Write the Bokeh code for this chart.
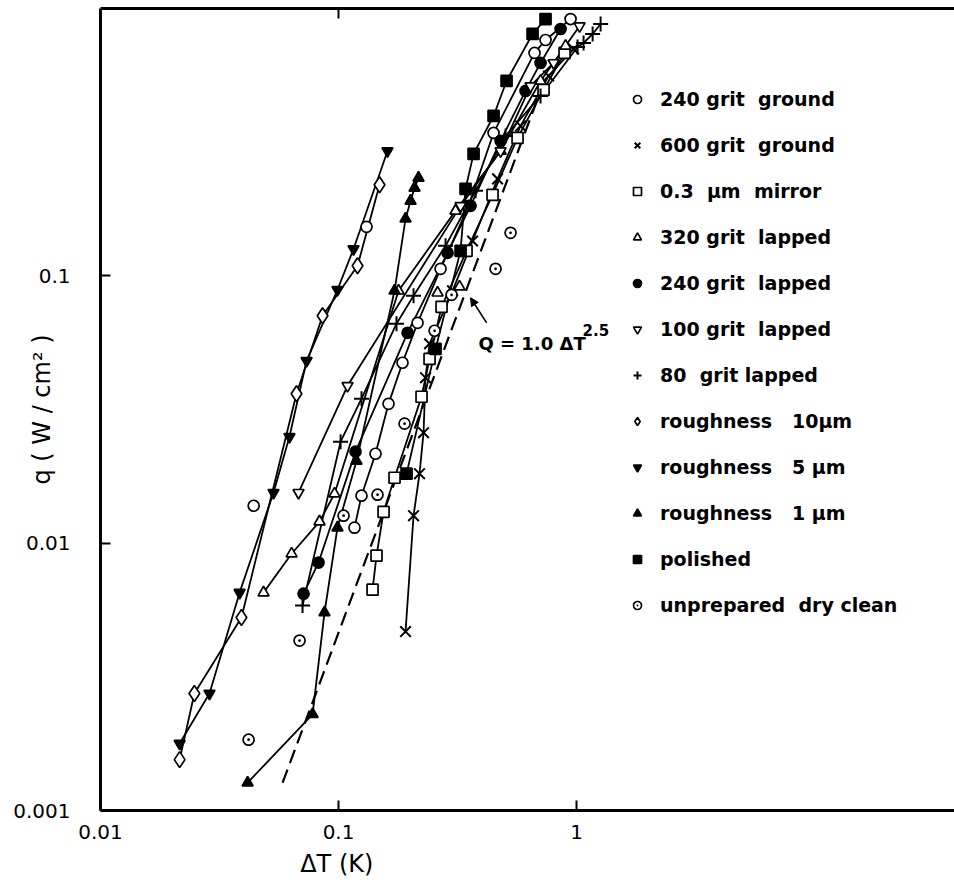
import math
from bokeh.plotting import figure
from bokeh.models import (FixedTicker, LogAxis, Legend, LegendItem,
                          Label, Arrow, NormalHead, Range1d)
from bokeh.embed import file_html
from bokeh.resources import INLINE

NaN = float("nan")

# ---------------- data (ΔT in K, q in W/cm^2) ----------------
x_ticks = [0.01, 0.1, 1]
x_tick_labels = ["0.01", "0.1", "1"]
y_ticks = [0.001, 0.01, 0.1]
y_tick_labels = ["0.001", "0.01", "0.1"]

# 240 grit ground (open circle); two single points on the left curves after NaN breaks
ggr240_dT = [0.1167, 0.1249, 0.1430, 0.1622, 0.1857, 0.2148, 0.2683, 0.3517, 0.4480, 0.6660, 0.7407, 0.9436, NaN, 0.0440, NaN, 0.1311]
ggr240_q = [0.01143, 0.01505, 0.0216, 0.0332, 0.0473, 0.0667, 0.1062, 0.1827, 0.3424, 0.682, 0.7625, 0.913, NaN, 0.0138, NaN, 0.1525]

# 600 grit ground (x)
ggr600_dT = [0.1912, 0.2066, 0.2189, 0.2276, 0.2320, 0.2412, 0.3013, 0.3656, 0.4657, 0.5817, 0.7629, 0.9714]
ggr600_q = [0.00467, 0.01267, 0.0182, 0.0259, 0.0416, 0.0557, 0.0879, 0.135, 0.2305, 0.3637, 0.5593, 0.706]

# 0.3 um mirror (open square)
mirror_dT = [0.1390, 0.1444, 0.1546, 0.1719, 0.2232, 0.2412, 0.2709, 0.3450, 0.4436, 0.5650, 0.7266, 0.8904]
mirror_q = [0.0067, 0.00898, 0.0131, 0.01757, 0.0353, 0.0489, 0.0766, 0.124, 0.2009, 0.328, 0.4959, 0.682]

# 320 grit lapped (open triangle)
lap320_dT = [0.0484, 0.0635, 0.0832, 0.0962, 0.1787, 0.3101, 0.4795, 0.7058, 0.8990, NaN, 0.2606, NaN, 0.3224]
lap320_q = [0.00653, 0.00913, 0.01204, 0.01531, 0.0879, 0.175, 0.293, 0.5358, 0.724, NaN, 0.0864, NaN, 0.0910]

# 240 grit lapped (filled circle)
lap240_dT = [0.0713, 0.0824, 0.1179, 0.1950, 0.2871, 0.3586, 0.4795, 0.6105, 0.7058, 0.8567]
lap240_q = [0.00647, 0.00846, 0.0220, 0.0612, 0.1219, 0.1827, 0.3196, 0.4917, 0.6257, 0.838]

# 100 grit lapped (open inverted triangle)
lap100_dT = [0.0679, 0.1091, 0.3256, 0.4795, 0.6408, 0.8007, 1.0294]
lap100_q = [0.01545, 0.0388, 0.1827, 0.293, 0.5131, 0.6257, 0.86]

# 80 grit lapped (+)
lap80_dT = [0.0706, 0.1020, 0.1249, 0.1752, 0.2066, 0.2816, 0.3764, 0.5031, 0.7058, 1.0097, 1.070, 1.168, 1.262]
lap80_q = [0.00584, 0.02396, 0.0347, 0.0662, 0.0842, 0.1295, 0.2079, 0.3337, 0.4709, 0.718, 0.743, 0.803, 0.875]

# roughness 10 um (open diamond)
r10_dT = [0.0215, 0.0248, 0.0391, 0.0666, 0.0857, 0.1202, 0.1487]
r10_q = [0.00155, 0.00274, 0.00527, 0.0362, 0.0709, 0.109, 0.219]

# roughness 5 um (filled inverted triangle)
r5_dT = [0.0215, 0.0287, 0.0384, 0.0533, 0.0622, 0.0734, 0.0990, 0.1156, 0.1606]
r5_q = [0.00178, 0.00274, 0.00653, 0.01545, 0.0250, 0.0481, 0.0887, 0.126, 0.293]

# roughness 1 um (filled triangle)
r1_dT = [0.0415, 0.0778, 0.0873, 0.0990, 0.1190, 0.1719, 0.1912, 0.2007, 0.2086, 0.2168]
r1_q = [0.00127, 0.00229, 0.0055, 0.01143, 0.0203, 0.0879, 0.1634, 0.1907, 0.2133, 0.2325]

# polished (filled square)
pol_dT = [0.1931, 0.2556, 0.3256, 0.3416, 0.3692, 0.4480, 0.5080, 0.6533, 0.7407]
pol_q = [0.0182, 0.0533, 0.124, 0.2115, 0.2858, 0.3963, 0.5358, 0.803, 0.913]

# unprepared dry clean (dotted circle), not connected
unp_dT = [0.0419, 0.0686, 0.1050, 0.1458, 0.1894, 0.2532, 0.2985, 0.4568, 0.5281]
unp_q = [0.00184, 0.00432, 0.01267, 0.01518, 0.028, 0.0623, 0.0849, 0.1062, 0.1448]

# correlation Q = 1.0 dT^2.5 (dashed), end points
corr_dT = [0.0582, 0.7058]
corr_q = [0.00127, 0.4917]

FONT = "DejaVu Sans"
SP = "\u00a0"

p = figure(width=954, height=889, x_axis_type="log", y_axis_type="log",
           x_range=Range1d(0.01, 38.7), y_range=Range1d(0.001, 1.0),
           output_backend="svg", toolbar_location=None,
           min_border_left=100, min_border_right=0, min_border_top=8, min_border_bottom=79,
           background_fill_color="white", border_fill_color="white",
           outline_line_color=None)
p.grid.visible = False

for ax, ticks, labs in ((p.xaxis[0], x_ticks, x_tick_labels), (p.yaxis[0], y_ticks, y_tick_labels)):
    ax.ticker = FixedTicker(ticks=ticks, minor_ticks=[])
    ax.major_label_overrides = dict(zip(ticks, labs))
    ax.major_tick_in = 10
    ax.major_tick_out = 0
    ax.minor_tick_line_color = None
    ax.axis_line_width = 3
    ax.major_tick_line_width = 2
    ax.major_label_text_font = FONT
    ax.major_label_text_font_size = "20px"
    ax.major_label_text_color = "black"
    ax.axis_label_text_font = FONT
    ax.axis_label_text_font_size = "24px"
    ax.axis_label_text_font_style = "normal"
    ax.axis_label_text_color = "black"
p.xaxis.major_label_standoff = 14
p.yaxis.major_label_standoff = 30

# x title centred under the 0.1 tick: trailing no-break spaces shift the visible text left
p.xaxis.axis_label = "ΔT (K)" + SP * 50
p.xaxis.axis_label_standoff = 8
p.yaxis.axis_label = "q ( W / cm² )"
p.yaxis.axis_label_standoff = -46

top = LogAxis(ticker=FixedTicker(ticks=[0.1], minor_ticks=[]), major_label_overrides={0.1: " "},
              major_label_text_font_size="1px", major_label_text_color=None,
              major_tick_in=10, major_tick_out=0, axis_line_width=3, major_tick_line_width=2,
              minor_tick_line_color=None, major_label_standoff=0)
p.add_layout(top, "above")

# correlation line and annotation
p.line(corr_dT, corr_q, line_color="black", line_width=2.2, line_dash="14 7")
p.add_layout(Label(x=0.387, y=0.0557, text="Q = 1.0 ΔT", text_font=FONT,
                   text_font_size="18px", text_font_style="bold", text_color="black",
                   text_baseline="alphabetic"))
p.add_layout(Label(x=1.06, y=0.0625, text="2.5", text_font=FONT,
                   text_font_size="15px", text_font_style="bold", text_color="black",
                   text_baseline="alphabetic"))
p.add_layout(Arrow(end=NormalHead(size=8, fill_color="black", line_color="black"),
                   x_start=0.419, y_start=0.0667, x_end=0.3585, y_end=0.0828,
                   line_color="black", line_width=1.6))

series = [
    ("240 grit" + SP * 2 + "ground", ggr240_dT, ggr240_q, "circle", "white"),
    ("600 grit" + SP * 2 + "ground", ggr600_dT, ggr600_q, "x", "white"),
    ("0.3" + SP * 2 + "μm" + SP * 2 + "mirror", mirror_dT, mirror_q, "square", "white"),
    ("320 grit" + SP * 2 + "lapped", lap320_dT, lap320_q, "triangle", "white"),
    ("240 grit" + SP * 2 + "lapped", lap240_dT, lap240_q, "circle", "black"),
    ("100 grit" + SP * 2 + "lapped", lap100_dT, lap100_q, "inverted_triangle", "white"),
    ("80" + SP * 2 + "grit" + SP + "lapped", lap80_dT, lap80_q, "cross", "white"),
    ("roughness" + SP * 3 + "10μm", r10_dT, r10_q, "diamond", "white"),
    ("roughness" + SP * 3 + "5 μm", r5_dT, r5_q, "inverted_triangle", "black"),
    ("roughness" + SP * 3 + "1 μm", r1_dT, r1_q, "triangle", "black"),
    ("polished", pol_dT, pol_q, "square", "black"),
    ("unprepared" + SP * 2 + "dry" + SP + "clean", unp_dT, unp_q, "circle_dot", "white"),
]

for name, xs, ys, mk, fc in series:
    if mk != "circle_dot":
        p.line(xs, ys, line_color="black", line_width=1.8)

items = []
for name, xs, ys, mk, fc in series:
    size = {"x": 15, "cross": 15, "diamond": 16}.get(mk, 11)
    lw = 2.0 if mk in ("x", "cross") else 1.7
    r = p.scatter(xs, ys, marker=mk, size=size, fill_color=fc, line_color="black", line_width=lw)
    items.append(LegendItem(label=name, renderers=[r]))

legend = Legend(items=items, location=(527, 194), glyph_width=20, glyph_height=20,
                label_height=20, spacing=24, label_standoff=13, padding=0, margin=0,
                border_line_color=None, background_fill_alpha=0,
                label_text_font=FONT, label_text_font_size="19px",
                label_text_font_style="bold", label_text_color="black")
p.add_layout(legend)

open("out.html", "w").write(file_html(p, INLINE))
